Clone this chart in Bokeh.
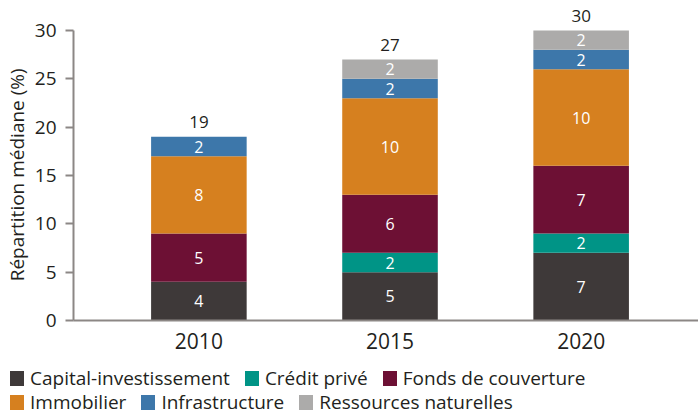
from bokeh.plotting import figure
from bokeh.layouts import column
from bokeh.models import ColumnDataSource, FixedTicker, Range1d, Div
from bokeh.embed import file_html
from bokeh.resources import INLINE
from bokeh.core.properties import value

# ---- data ----
years = [2010, 2015, 2020]
series = ["Capital-investissement", "Crédit privé", "Fonds de couverture",
          "Immobilier", "Infrastructure", "Ressources naturelles"]
capital = [4, 5, 7]
credit = [0, 2, 2]
fonds = [5, 6, 7]
immobilier = [8, 10, 10]
infrastructure = [2, 2, 2]
ressources = [0, 2, 2]
totals = [19, 27, 30]
y_ticks = [0, 5, 10, 15, 20, 25, 30]
legend_rows = [[0, 1, 2], [3, 4, 5]]

colors = ["#3e3939", "#009486", "#6d1034", "#d6801f", "#3d77aa", "#acabaa"]
FONT = "Open Sans"
TXT = "#231f20"
AXIS = "#8c8785"

values = [capital, credit, fonds, immobilier, infrastructure, ressources]
keys = ["s%d" % i for i in range(len(series))]
data = {"year": years}
for k, v in zip(keys, values):
    data[k] = v
src = ColumnDataSource(data)

p = figure(width=698, height=360, output_backend="svg", toolbar_location=None,
           x_range=Range1d(2006.72, 2023.07), y_range=Range1d(0, 32.69),
           min_border_left=70, min_border_top=4, min_border_bottom=40,
           min_border_right=0, background_fill_color=None, border_fill_color=None)
p.outline_line_color = None
p.grid.visible = False

rs = p.vbar_stack(keys, x="year", width=2.5, source=src, color=colors,
                  line_color=None)

# segment labels
lx, ly, lt = [], [], []
for j, yr in enumerate(years):
    base = 0
    for v in values:
        if v[j] > 0:
            lx.append(yr)
            ly.append(base + v[j] / 2)
            lt.append(str(v[j]))
        base += v[j]
p.text(x=lx, y=ly, text=lt, text_align="center", text_baseline="middle",
       text_color="white", text_font=value(FONT), text_font_size="16px")

# totals, floated a little above each bar
p.text(x=years, y=[t + 1.5 for t in totals], text=[str(t) for t in totals],
       text_align="center", text_baseline="alphabetic", text_color=TXT,
       text_font=value(FONT), text_font_size="17px")

# axes
p.yaxis.ticker = FixedTicker(ticks=y_ticks)
p.yaxis.bounds = (0, 30)
# trailing no-break spaces keep the label centred on the 0-30 span of the axis
p.yaxis.axis_label = "Répartition médiane (%)" + "\u00a0" * 5
p.yaxis.axis_label_text_font = FONT
p.yaxis.axis_label_text_font_style = "normal"
p.yaxis.axis_label_text_font_size = "19px"
p.yaxis.axis_label_text_color = TXT
p.yaxis.axis_label_standoff = 2
p.yaxis.major_label_text_font_size = "19px"
p.yaxis.major_tick_out = 8
p.yaxis.major_tick_in = 0
p.yaxis.major_label_standoff = 9

p.xaxis.ticker = FixedTicker(ticks=years)
p.xaxis.major_tick_out = 0
p.xaxis.major_tick_in = 0
p.xaxis.major_label_text_font_size = "21px"
p.xaxis.major_label_standoff = 12

for ax in (p.xaxis, p.yaxis):
    ax.minor_tick_line_color = None
    ax.axis_line_color = AXIS
    ax.axis_line_width = 2
    ax.major_tick_line_color = AXIS
    ax.major_tick_line_width = 2
    ax.major_label_text_font = FONT
    ax.major_label_text_color = TXT

# legend as two free-flowing rows of HTML text
rows_html = []
for row in legend_rows:
    items = []
    for i in row:
        items.append(
            '<span style="display:inline-block;white-space:nowrap;margin-right:15px">'
            '<span style="display:inline-block;width:14px;height:15px;'
            'background:%s;vertical-align:-1px;margin-right:6px"></span>%s</span>'
            % (colors[i], series[i]))
    rows_html.append('<div style="height:24px;line-height:24px;white-space:nowrap">%s</div>'
                     % "".join(items))
legend_html = ('<div style="font-family:\'Open Sans\';font-size:19px;color:%s;'
               'padding:6px 0 0 10px;margin:0">%s</div>' % (TXT, "".join(rows_html)))
leg = Div(text=legend_html, width=698, height=55, margin=0)

layout = column(p, leg, spacing=0)
open("out.html", "w").write(file_html(layout, INLINE))
